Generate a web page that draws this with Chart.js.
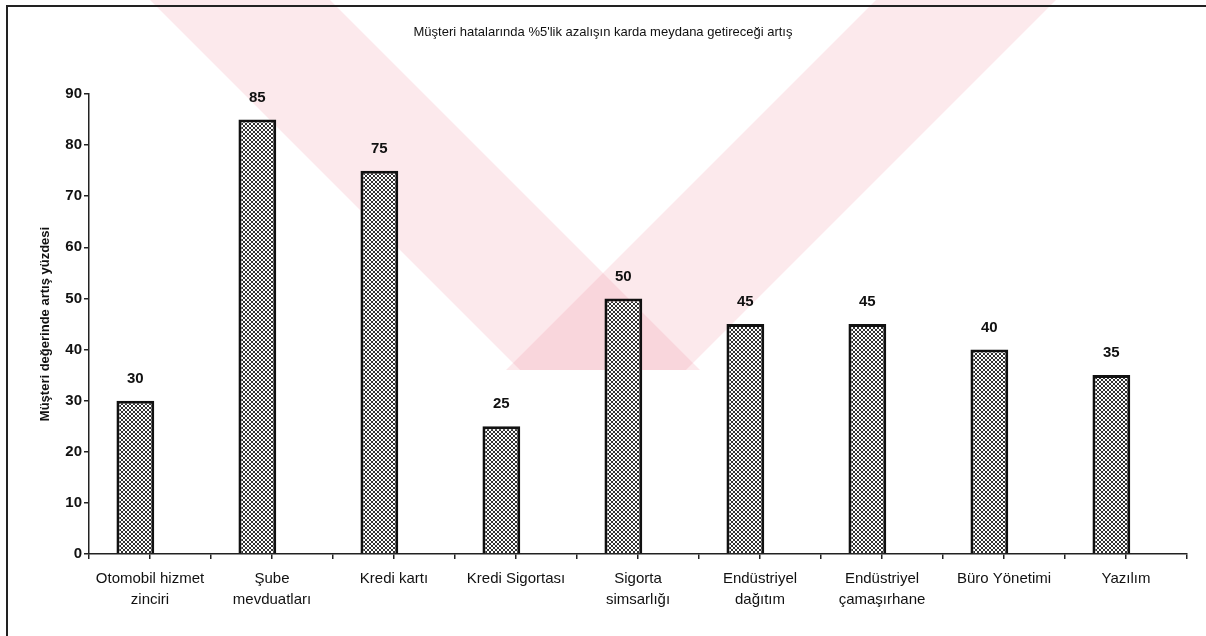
<!DOCTYPE html>
<html>
<head>
<meta charset="utf-8">
<script src="https://cdn.jsdelivr.net/npm/chart.js@4.4.1/dist/chart.umd.min.js"></script>
<style>
  html, body { margin: 0; padding: 0; background: #fff; }
  #wrap { position: relative; width: 1206px; height: 636px; }
  #frame { position: absolute; left: 6px; top: 5px; right: 0; bottom: 0;
           border-left: 2px solid #222; border-top: 2px solid #222; pointer-events: none; }
</style>
</head>
<body>
<div id="wrap">
  <canvas id="myChart" width="1206" height="636"></canvas>
  <div id="frame"></div>
</div>
<script>
const chartTitle = "Müşteri hatalarında %5'lik azalışın karda meydana getireceği artış";
const yTitle = 'Müşteri değerinde artış yüzdesi';
const categories = [
    ['Otomobil hizmet', 'zinciri'],
    ['Şube', 'mevduatları'],
    'Kredi kartı',
    'Kredi Sigortası',
    ['Sigorta', 'simsarlığı'],
    ['Endüstriyel', 'dağıtım'],
    ['Endüstriyel', 'çamaşırhane'],
    'Büro Yönetimi',
    'Yazılım'
];
const values = [30, 85, 75, 25, 50, 45, 45, 40, 35];
const yTicks = [0, 10, 20, 30, 40, 50, 60, 70, 80, 90];

// in the original the bars sit a bit left of their category labels
const barShift = 0.12;

// halftone fill like the scanned bars
function makePattern() {
    const c = document.createElement('canvas');
    c.width = 4; c.height = 4;
    const g = c.getContext('2d');
    g.fillStyle = '#fff';
    g.fillRect(0, 0, 4, 4);
    g.fillStyle = '#333';
    const dots = [[1,0],[2,0],[0,1],[3,1],[0,2],[3,2],[1,3],[2,3]];
    dots.forEach(d => g.fillRect(d[0], d[1], 1, 1));
    return g.createPattern(c, 'repeat');
}

// faint watermark behind the chart
const watermark = {
    id: 'watermark',
    beforeDraw(chart) {
        const ctx = chart.ctx;
        ctx.save();
        ctx.fillStyle = 'rgba(236, 120, 135, 0.16)';
        const bands = [
            [[150, 0], [330, 0], [700, 370], [520, 370]],
            [[1056, 0], [876, 0], [506, 370], [686, 370]]
        ];
        bands.forEach(b => {
            ctx.beginPath();
            ctx.moveTo(b[0][0], b[0][1]);
            for (let i = 1; i < b.length; i++) ctx.lineTo(b[i][0], b[i][1]);
            ctx.closePath();
            ctx.fill();
        });
        ctx.restore();
    }
};

// value labels above the bars
const barLabels = {
    id: 'barLabels',
    afterDatasetsDraw(chart) {
        const ctx = chart.ctx;
        const meta = chart.getDatasetMeta(0);
        ctx.save();
        ctx.font = 'bold 15px "Liberation Sans", Arial, sans-serif';
        ctx.fillStyle = '#111';
        ctx.textAlign = 'center';
        ctx.textBaseline = 'middle';
        meta.data.forEach((bar, i) => {
            ctx.fillText(values[i], bar.x, bar.y - 22);
        });
        ctx.restore();
    }
};

const ctx = document.getElementById('myChart');
new Chart(ctx, {
    type: 'bar',
    data: {
        datasets: [{
            data: values.map((v, i) => ({ x: i, y: v })),
            backgroundColor: makePattern(),
            borderColor: '#111',
            borderWidth: 3,
            barPercentage: 0.62,
            categoryPercentage: 1
        }]
    },
    options: {
        responsive: false,
        animation: false,
        layout: { padding: { left: 0, right: 19, top: 94, bottom: 0 } },
        plugins: {
            legend: { display: false },
            tooltip: { enabled: false },
            title: { display: false }
        },
        scales: {
            y: {
                min: 0,
                max: 90,
                afterFit(s) { s.width = 89; },
                afterBuildTicks(s) { s.ticks = yTicks.map(v => ({ value: v })); },
                grid: { drawOnChartArea: false, drawTicks: true, tickLength: 5, color: '#222', lineWidth: 1.5 },
                border: { display: true, color: '#222', width: 1.5 },
                ticks: {
                    color: '#111',
                    padding: 2,
                    font: { family: '"Liberation Sans", Arial, sans-serif', size: 15, weight: 'bold' }
                },
                title: {
                    display: true,
                    text: yTitle,
                    color: '#111',
                    padding: { top: 38, bottom: 0 },
                    font: { family: '"Liberation Sans", Arial, sans-serif', size: 13, weight: 'bold' }
                }
            },
            x: {
                type: 'linear',
                offset: false,
                min: -0.5 + barShift,
                max: categories.length - 0.5 + barShift,
                afterFit(s) { s.height = 82; },
                afterBuildTicks(s) {
                    const t = [];
                    for (let k = 0; k <= categories.length * 2; k++) {
                        t.push({ value: -0.5 + barShift + k * 0.5 });
                    }
                    s.ticks = t;
                },
                grid: { offset: false, drawOnChartArea: false, drawTicks: true, tickLength: 5, color: '#222', lineWidth: 1.5 },
                border: { display: true, color: '#222', width: 1.5 },
                ticks: {
                    color: '#111',
                    padding: 9,
                    maxRotation: 0,
                    autoSkip: false,
                    callback(v) {
                        const i = Math.round(v - barShift);
                        if (Math.abs(v - barShift - i) < 0.01 && i >= 0 && i < categories.length) {
                            return categories[i];
                        }
                        return '';
                    },
                    font: { family: '"Liberation Sans", Arial, sans-serif', size: 15, lineHeight: 1.4 }
                }
            }
        }
    },
    plugins: [watermark, barLabels, {
        id: 'topTitle',
        afterDraw(chart) {
            const c = chart.ctx;
            c.save();
            c.font = '13px "Liberation Sans", Arial, sans-serif';
            c.fillStyle = '#111';
            c.textAlign = 'center';
            c.textBaseline = 'middle';
            c.fillText(chartTitle, 603, 32);
            c.restore();
        }
    }]
});
</script>
</body>
</html>
